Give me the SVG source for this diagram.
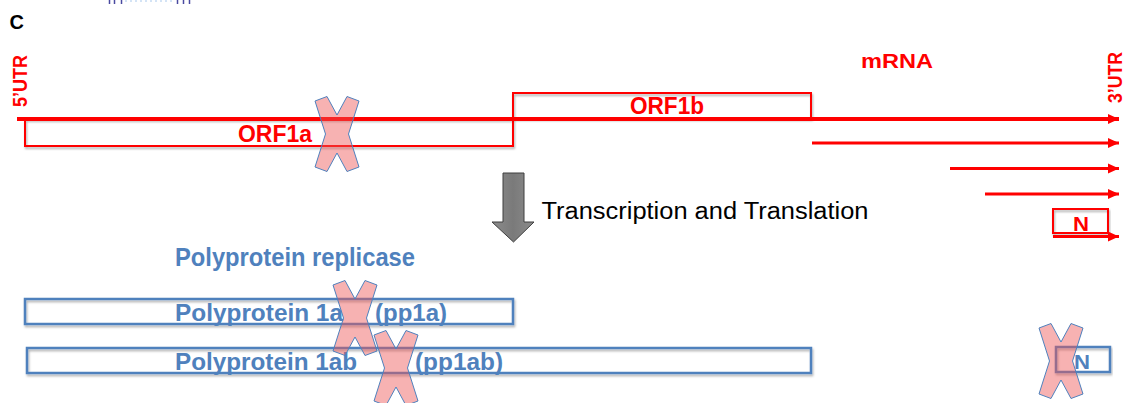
<svg xmlns="http://www.w3.org/2000/svg" width="1131" height="403" viewBox="0 0 1131 403">
<style>
  .red { fill: #ff0000; font-family: "Liberation Sans", Arial, sans-serif; font-weight: bold; }
  .blue { fill: #4f81bd; font-family: "Liberation Sans", Arial, sans-serif; font-weight: bold; }
  .rbox { fill: none; stroke: #ff0000; stroke-width: 2; filter: url(#sh); }
  .bbox { fill: none; stroke: #4f81bd; stroke-width: 2.5; filter: url(#sh); }
  .rline { stroke: #ff0000; stroke-width: 3; fill: none; marker-end: url(#ah); }
  .xmark { fill: #ee5555; fill-opacity: 0.45; stroke: #4f81bd; stroke-width: 1; }
  .tick { stroke: #4a4aa0; stroke-width: 1.5; }
</style>
<defs>
  <filter id="sh" x="-5%" y="-30%" width="110%" height="170%">
    <feDropShadow dx="1" dy="2" stdDeviation="1.2" flood-color="#000" flood-opacity="0.3"/>
  </filter>
  <linearGradient id="grey" x1="0" y1="0" x2="1" y2="0">
    <stop offset="0" stop-color="#8c8c8c"/>
    <stop offset="0.5" stop-color="#7a7a7a"/>
    <stop offset="1" stop-color="#8c8c8c"/>
  </linearGradient>
  <marker id="ah" markerUnits="userSpaceOnUse" markerWidth="12" markerHeight="12" refX="11" refY="6" orient="auto">
    <path d="M0,1 L11,6 L0,11 Z" fill="#ff0000"/>
  </marker>
  <polygon id="X" points="-22,-33 -10,-37.5 0,-19 10,-37.5 22,-33 11.5,0 22,33 10,37.5 0,19 -10,37.5 -22,33 -11.5,0"/>
</defs>
<rect width="1131" height="403" fill="#ffffff"/>

<g id="fragment">
  <line class="tick" x1="109.5" y1="0" x2="109.5" y2="4"/>
  <line class="tick" x1="114.5" y1="0" x2="114.5" y2="4"/>
  <line class="tick" x1="121.5" y1="0" x2="121.5" y2="4"/>
  <line x1="125" y1="1" x2="175" y2="1" stroke="#a8c8ec" stroke-width="1" stroke-dasharray="2,3"/>
  <line class="tick" x1="177.5" y1="0" x2="177.5" y2="4"/>
  <line class="tick" x1="183.5" y1="0" x2="183.5" y2="4"/>
  <line class="tick" x1="189.5" y1="0" x2="189.5" y2="4"/>
</g>

<g id="panel-label">
  <text x="9.5" y="29" font-family="Liberation Sans, Arial, sans-serif" font-weight="bold" font-size="20" fill="#000">C</text>
</g>

<g id="utr5">
  <text class="red" transform="translate(27,107) rotate(-90)" font-size="20" textLength="52" lengthAdjust="spacingAndGlyphs">5’UTR</text>
</g>
<g id="utr3">
  <text class="red" transform="translate(1121.5,103) rotate(-90)" font-size="20" textLength="51" lengthAdjust="spacingAndGlyphs">3’UTR</text>
</g>
<g id="mrna-label">
  <text class="red" x="861" y="67.5" font-size="21" textLength="72" lengthAdjust="spacingAndGlyphs">mRNA</text>
</g>

<g id="orf1a">
  <rect class="rbox" x="25" y="119" width="488" height="27"/>
  <text class="red" x="238" y="142" font-size="24" textLength="74" lengthAdjust="spacingAndGlyphs">ORF1a</text>
</g>
<g id="orf1b">
  <rect class="rbox" x="513" y="93" width="298" height="25"/>
  <text class="red" x="630" y="114" font-size="24" textLength="74" lengthAdjust="spacingAndGlyphs">ORF1b</text>
</g>
<g id="n-gene">
  <rect class="rbox" x="1053" y="209" width="55" height="24"/>
  <text class="red" x="1073" y="230.5" font-size="20" textLength="16" lengthAdjust="spacingAndGlyphs">N</text>
</g>

<g id="connectors">
  <line x1="17" y1="119" x2="1119" y2="119" stroke="#ff0000" stroke-width="4" marker-end="url(#ah)"/>
  <line class="rline" x1="812" y1="143" x2="1119" y2="143"/>
  <line class="rline" x1="950" y1="168.5" x2="1119" y2="168.5"/>
  <line class="rline" x1="985" y1="194" x2="1119" y2="194"/>
  <line class="rline" x1="1053" y1="236.5" x2="1119" y2="236.5"/>
</g>

<g id="process-arrow">
  <polygon points="503,173 524,173 524,222 534,222 513.5,242 492,222 503,222" fill="url(#grey)" stroke="#3f3f3f" stroke-width="1"/>
  <text x="541.5" y="219" font-family="Liberation Sans, Arial, sans-serif" font-size="23.5" fill="#000" textLength="327" lengthAdjust="spacingAndGlyphs">Transcription and Translation</text>
</g>

<g id="replicase-label">
  <text class="blue" x="175" y="266" font-size="25" textLength="240" lengthAdjust="spacingAndGlyphs">Polyprotein replicase</text>
</g>

<g id="pp1a">
  <rect class="bbox" x="25" y="299" width="488" height="25"/>
  <text class="blue" x="175" y="320.5" font-size="24.5" textLength="168" lengthAdjust="spacingAndGlyphs">Polyprotein 1a</text>
  <text class="blue" x="375" y="320.5" font-size="24.5" textLength="72" lengthAdjust="spacingAndGlyphs">(pp1a)</text>
</g>
<g id="pp1ab">
  <rect class="bbox" x="27" y="348" width="784" height="25"/>
  <text class="blue" x="175" y="369.5" font-size="24.5" textLength="182" lengthAdjust="spacingAndGlyphs">Polyprotein 1ab</text>
  <text class="blue" x="415" y="369.5" font-size="24.5" textLength="88" lengthAdjust="spacingAndGlyphs">(pp1ab)</text>
</g>
<g id="n-protein">
  <rect class="bbox" x="1056" y="347" width="54" height="25"/>
  <text class="blue" x="1074" y="368.5" font-size="21" textLength="16" lengthAdjust="spacingAndGlyphs">N</text>
</g>

<g id="knockouts">
  <use href="#X" class="xmark" transform="translate(337,134)"/>
  <use href="#X" class="xmark" transform="translate(355,318)"/>
  <use href="#X" class="xmark" transform="translate(396,368)"/>
  <use href="#X" class="xmark" transform="translate(1061,361)"/>
</g>
</svg>
